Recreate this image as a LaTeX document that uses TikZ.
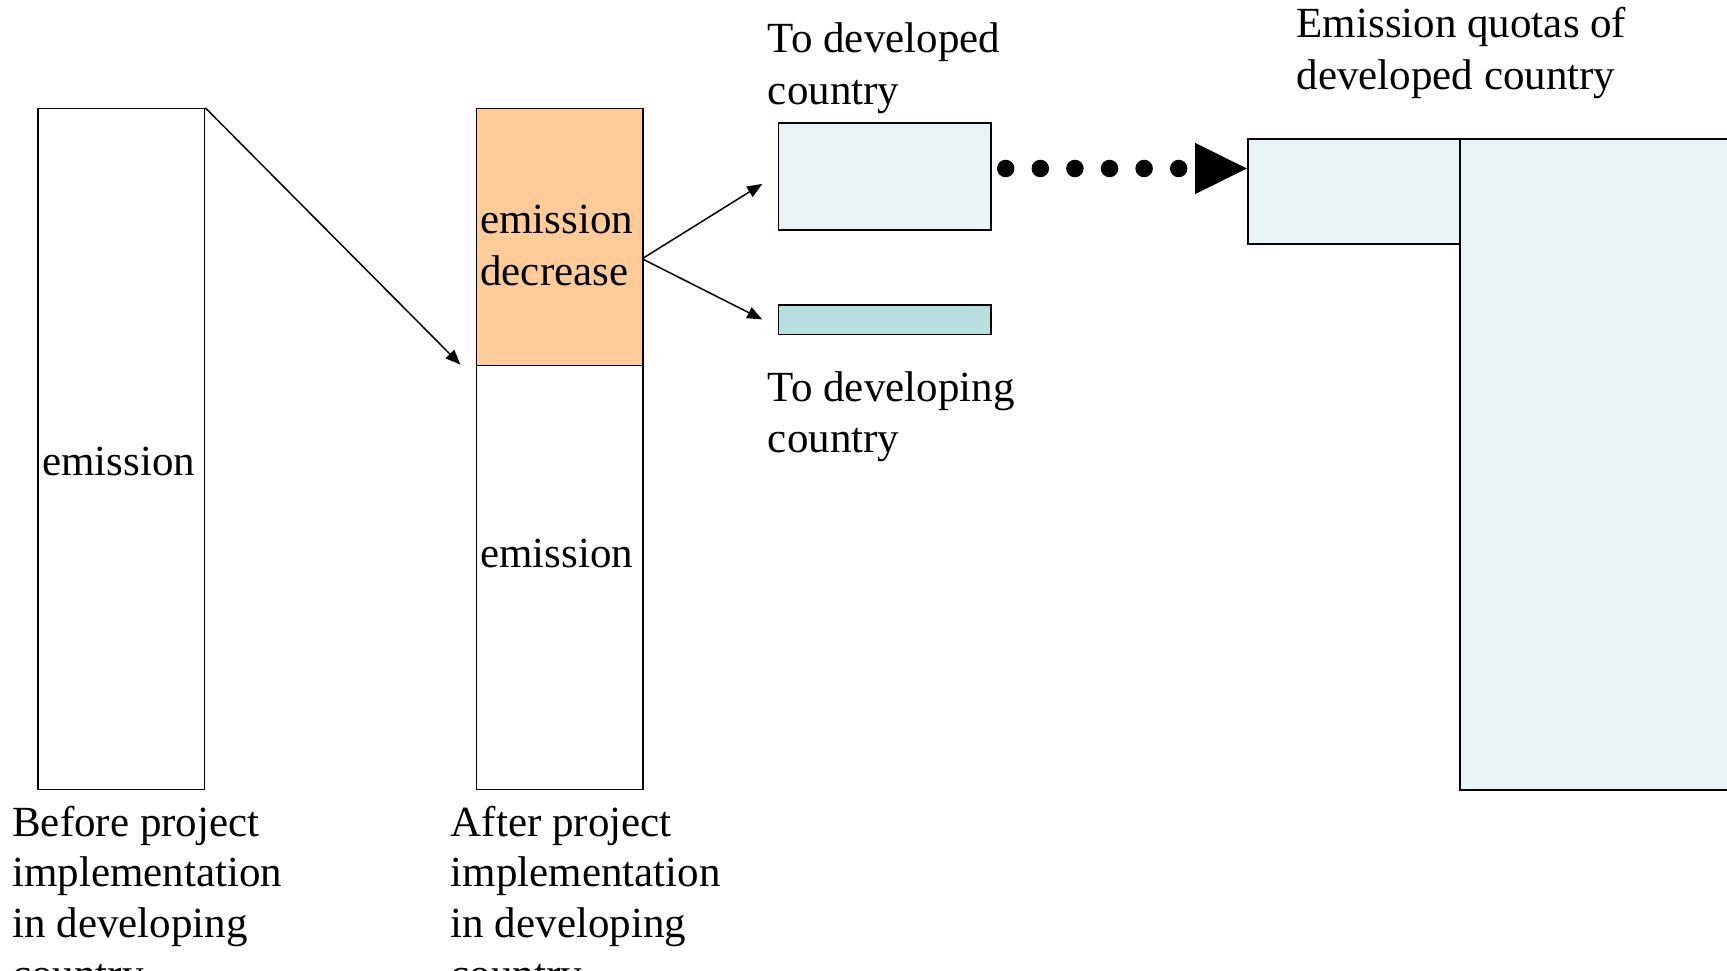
\documentclass[tikz,border=0pt]{standalone}
\usepackage{fontspec}
\setmainfont{Liberation Serif}
\usetikzlibrary{arrows.meta}
\definecolor{orangefill}{RGB}{255,204,153}
\definecolor{tealbar}{RGB}{183,222,225}
\definecolor{dotfill}{RGB}{232,245,246}
\tikzset{
  box/.style={draw=black, line width=1.6pt, inner sep=0pt, anchor=north west},
  bigbox/.style={box, line width=2pt, fill=dotfill},
  lbl/.style={anchor=base west, inner sep=0pt, font=\fontsize{43}{52}\selectfont},
  thinarrow/.style={line width=1.5pt, -{Triangle[length=15pt,width=12pt]}},
  dotarrow/.style={line width=17.5pt, line cap=round, dash pattern=on 0pt off 34.6pt,
    shorten <=15.5pt, -{Triangle[length=51.7pt,width=51.3pt,line width=0pt]}},
}
\begin{document}
\begin{tikzpicture}[x=1pt,y=-1pt]
\clip (0,0) rectangle (1727,971);
\fill[white] (0,0) rectangle (1727,971);
% boxes
\node[box, minimum width=166.4pt, minimum height=680.7pt] (before) at (37.4,107.9) {};
\node[box, fill=orangefill, minimum width=166.3pt, minimum height=256.7pt] (dec) at (475.8,107.9) {};
\node[box, minimum width=166.3pt, minimum height=424pt] (after) at (475.8,364.6) {};
\node[box, fill=dotfill, minimum width=212.6pt, minimum height=106.8pt] (dev) at (777.6,122.3) {};
\node[box, fill=tealbar, minimum width=212.6pt, minimum height=29.7pt] (devg) at (777.6,304) {};
\node[bigbox, minimum width=300pt, minimum height=650.9pt] (qbig) at (1459.4,137.7) {};
\node[bigbox, minimum width=212.6pt, minimum height=105.7pt] (qsmall) at (1246.8,137.7) {};
% texts
\node[lbl] (e1) at (41.9,475.8) {emission};
\node[lbl] (ed1) at (480.2,233.5) {emission};
\node[lbl] (ed2) at (480.2,285.3) {decrease};
\node[lbl] (e2) at (480.2,567.2) {emission};
\node[lbl] (td1) at (767.7,52.9) {To developed};
\node[lbl] (td2) at (767.7,104.6) {country};
\node[lbl] (tg1) at (767.7,401) {To developing};
\node[lbl] (tg2) at (767.7,452.7) {country};
\node[lbl] (q1) at (1296.4,37.4) {Emission quotas of};
\node[lbl] (q2) at (1296.4,89.2) {developed country};
\node[lbl] (b1) at (12.1,836) {Before project};
\node[lbl] (b2) at (12.1,886.5) {implementation};
\node[lbl] (b3) at (12.1,937.3) {in developing};
\node[lbl] (b4) at (12.1,988) {country};
\node[lbl] (a1) at (450.5,836) {After project};
\node[lbl] (a2) at (450.5,886.5) {implementation};
\node[lbl] (a3) at (450.5,937.3) {in developing};
\node[lbl] (a4) at (450.5,988) {country};
% connectors
\coordinate (aend) at (460.4,364.6);
\coordinate (split) at (642.1,258.8);
\coordinate (tdev) at (762.2,183.9);
\coordinate (tdevg) at (762.2,319.4);
\coordinate (d0) at (990.2,168.5);
\coordinate (d1) at (1246.8,168.5);
\draw[thinarrow] (before.north east) -- (aend);
\draw[thinarrow] (split) -- (tdev);
\draw[thinarrow] (split) -- (tdevg);
\draw[dotarrow] (d0) -- (d1);
\end{tikzpicture}
\end{document}
